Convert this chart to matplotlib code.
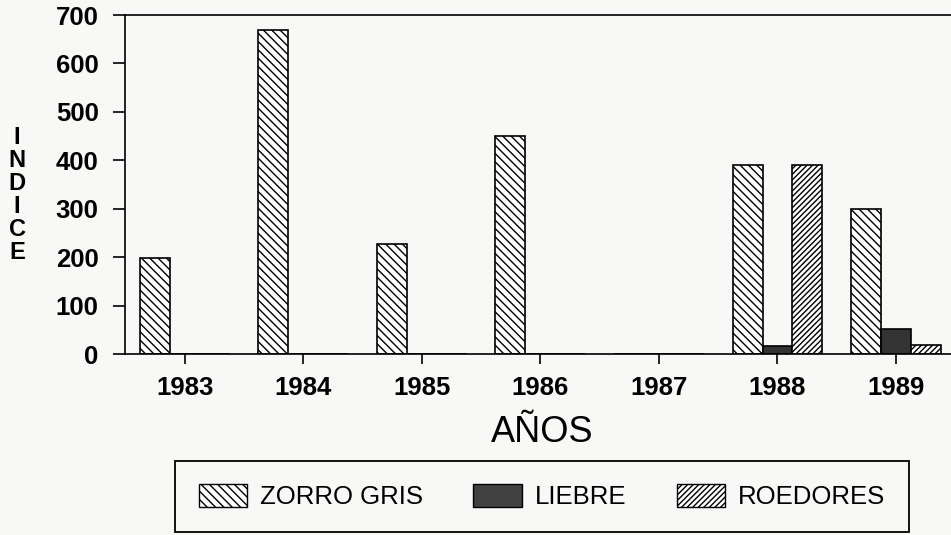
import numpy as np
import matplotlib
matplotlib.use('Agg')
import matplotlib.pyplot as plt
from matplotlib.patches import Patch

plt.rcParams['font.family'] = ['Liberation Sans', 'DejaVu Sans']
plt.rcParams['hatch.linewidth'] = 1.0

# data
years = ['1983', '1984', '1985', '1986', '1987', '1988', '1989']
zorro_gris = [198, 670, 227, 450, 0, 390, 300]
liebre = [0, 0, 0, 0, 0, 16, 52]
roedores = [0, 0, 0, 0, 0, 390, 18]

series_names = ['ZORRO GRIS', 'LIEBRE', 'ROEDORES']
y_ticks = [0, 100, 200, 300, 400, 500, 600, 700]

paper = '#f8f8f6'
dark = '#333333'

fig = plt.figure(figsize=(9.51, 5.35), dpi=100, facecolor=paper)
ax = fig.add_axes([0.1314, 0.3383, 0.8686, 0.6336])
ax.set_facecolor('none')

x = np.arange(len(years))
w = 0.253

ax.bar(x - w, zorro_gris, w, facecolor='white', edgecolor='black',
       linewidth=1.2, hatch='\\\\\\\\')
ax.bar(x, liebre, w, facecolor=dark, edgecolor='black', linewidth=1.2)
ax.bar(x + w, roedores, w, facecolor='white', edgecolor='black',
       linewidth=1.2, hatch='//////')

ax.set_ylim(0, 700)
ax.set_xlim(-0.506, 6.464)
ax.set_yticks(y_ticks)
ax.set_xticks(x)
ax.set_xticklabels(years)

for side in ['left', 'bottom', 'top']:
    ax.spines[side].set_linewidth(1.2)
ax.spines['right'].set_visible(False)

ax.tick_params(axis='y', direction='out', length=9, width=1.2, pad=10,
               labelsize=18.5)
ax.tick_params(axis='x', direction='out', length=7, width=1.2, pad=9,
               labelsize=18.5)
for lab in ax.get_yticklabels() + ax.get_xticklabels():
    lab.set_fontweight('bold')

# stacked y label
fig.text(17 / 951, 1 - 195 / 535, '\n'.join('INDICE'), ha='center',
         va='center', fontsize=17, fontweight='bold', linespacing=1.0)

fig.text(542 / 951, 1 - 442 / 535, 'AÑOS', ha='center', va='baseline',
         fontsize=26)

handles = [Patch(facecolor='white', edgecolor='black', hatch='\\\\\\\\'),
           Patch(facecolor='#404040', edgecolor='black'),
           Patch(facecolor='white', edgecolor='black', hatch='//////')]
leg = fig.legend(handles, series_names, loc='center',
                 bbox_to_anchor=(542 / 951, 1 - 496.5 / 535), ncol=3,
                 fontsize=18.5, frameon=True, fancybox=False,
                 edgecolor='black', framealpha=1, facecolor=paper,
                 borderpad=0.9, handlelength=1.9, handleheight=1.0,
                 handletextpad=0.5, columnspacing=1.95)
leg.get_frame().set_linewidth(1.3)

fig.savefig('out.png', dpi=100, facecolor=paper)
